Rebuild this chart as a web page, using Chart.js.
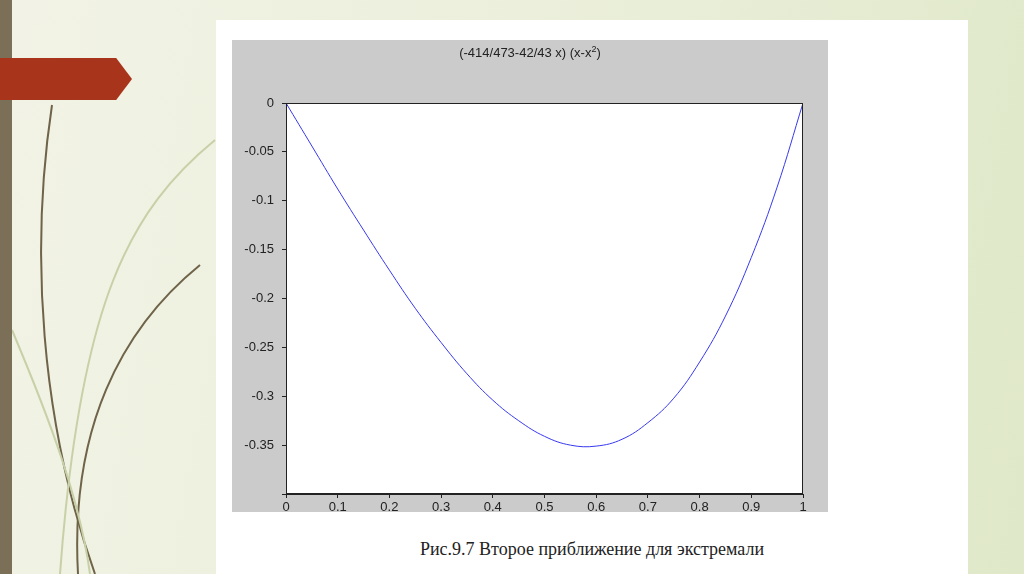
<!DOCTYPE html>
<html><head><meta charset="utf-8">
<script src="https://cdn.jsdelivr.net/npm/chart.js@4/dist/chart.umd.min.js"></script>
<style>
body{margin:0;width:1024px;height:574px;overflow:hidden;position:relative;
 background:linear-gradient(100deg,#f2f3e6 0%,#e9eed8 60%,#dfe8c8 100%);font-family:"Liberation Sans",Arial,sans-serif}
#strip{position:absolute;left:0;top:0;width:12px;height:574px;background:#7b6f57}
#arrow{position:absolute;left:0;top:58px;width:132px;height:42px;background:#a8341c;
 clip-path:polygon(0 0,88% 0,100% 50%,88% 100%,0 100%)}
#panel{position:absolute;left:216px;top:20px;width:752px;height:554px;background:#fff}
#frame{position:absolute;left:232px;top:40px;width:596px;height:472px;background:#cbcbcb}
#title{position:absolute;left:232px;top:44px;width:596px;text-align:center;font-size:13px;color:#222}
#cap{position:absolute;left:216px;top:539px;width:752px;text-align:center;font-family:"Liberation Serif",serif;font-size:18px;color:#222}
svg{position:absolute;left:0;top:0}
</style></head><body>
<svg width="220" height="574"><g fill="none" stroke="#6f6349" stroke-width="2">
<path d="M52 105 C30 250,40 420,95 574"/><path d="M200 265 C120 330,70 430,78 574"/>
<path d="M12 330 C50 420,80 500,90 574" stroke="#c8d0a8"/><path d="M215 140 C130 210,80 300,60 574" stroke="#c8d0a8"/></g></svg>
<div id="strip"></div><div id="arrow"></div>
<div id="panel"></div><div id="frame"></div>
<div style="position:absolute;left:232px;top:40px;width:596px;height:472px"><canvas id="c" width="596" height="472"></canvas></div>
<div id="title">(-414/473-42/43 x) (x-x<sup style="font-size:9px">2</sup>)</div>
<div id="cap">Рис.9.7 Второе приближение для экстремали</div>
<script>
const xs = [0,0.05,0.1,0.15,0.2,0.25,0.3,0.35,0.4,0.45,0.5,0.55,0.6,0.65,0.7,0.75,0.8,0.85,0.9,0.95,1];
const ys = [0,-0.044,-0.088,-0.130,-0.171,-0.210,-0.245,-0.277,-0.304,-0.325,-0.341,-0.350,-0.351,-0.344,-0.327,-0.302,-0.265,-0.218,-0.158,-0.086,0];

const areaBg = {id:"areaBg", beforeDraw(ch){const a=ch.chartArea,x=ch.ctx;x.save();x.fillStyle="#fff";x.fillRect(a.left,a.top,a.width,a.height);x.restore();},
 afterDraw(ch){const a=ch.chartArea,x=ch.ctx;x.save();x.strokeStyle="#222";x.lineWidth=1;x.strokeRect(a.left+0.5,a.top+0.5,a.width-1,a.height-1);x.restore();}};

const fmt = v => Math.abs(v+0.4)<1e-9 ? "" : (+v.toFixed(2)).toString();

new Chart(document.getElementById("c"), {
  type: "line",
  data: {datasets: [{data: xs.map((x,i)=>({x:x,y:ys[i]})), borderColor:"#3838f0", borderWidth:1, pointRadius:0, tension:0.4}]},
  options: {
    responsive:false, animation:false,
    layout:{padding:{top:63,right:25,left:0,bottom:0}},
    plugins:{legend:{display:false},tooltip:{enabled:false}},
    scales:{
      x:{type:"linear",min:0,max:1,ticks:{stepSize:0.1,color:"#222",font:{size:13},maxRotation:0,padding:2,callback:fmt},
         grid:{drawOnChartArea:false,tickLength:4,color:"#222"},border:{color:"#222"},
         afterFit(s){s.height=18;}},
      y:{min:-0.4,max:0,ticks:{stepSize:0.05,color:"#222",font:{size:13},padding:8,callback:fmt},
         grid:{drawOnChartArea:false,tickLength:4,color:"#222"},border:{color:"#222"},
         afterFit(s){s.width=54;}}
    }
  },
  plugins:[areaBg]
});
</script></body></html>
